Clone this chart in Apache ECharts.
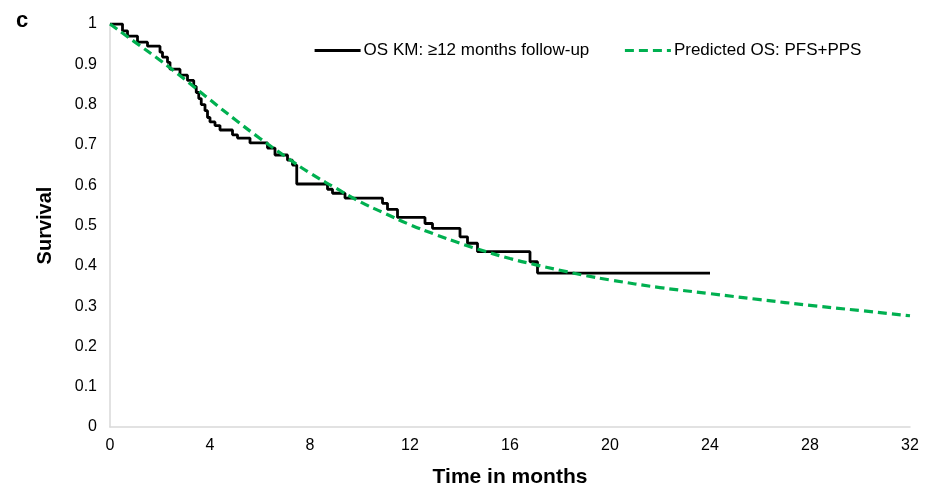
<!DOCTYPE html>
<html>
<head>
<meta charset="utf-8">
<script src="https://cdn.jsdelivr.net/npm/echarts@6/dist/echarts.min.js"></script>
<style>
  html, body { margin: 0; padding: 0; background: #fff; }
  #chart { width: 934px; height: 496px; }
</style>
</head>
<body>
<div id="chart"></div>
<script>
// KM steps: [month, survival after the drop]
const kmTimes = [0, 0.5, 0.7, 1.1, 1.5, 2.0, 2.1, 2.3, 2.4, 2.8, 3.1, 3.35, 3.45, 3.55, 3.65, 3.8, 3.9, 4.0,
  4.2, 4.4, 4.9, 5.1, 5.6, 6.3, 6.6, 7.1, 7.3, 7.47, 8.7, 8.9, 9.4, 10.9, 11.1, 11.5, 12.6, 12.9,
  14.0, 14.3, 14.7, 16.8, 17.1, 24];
const kmSurv = [1.0, 0.983, 0.97, 0.955, 0.945, 0.93, 0.918, 0.905, 0.888, 0.873, 0.86, 0.845, 0.83, 0.815, 0.80, 0.785, 0.768, 0.757,
  0.748, 0.737, 0.725, 0.717, 0.705, 0.692, 0.675, 0.662, 0.65, 0.603, 0.59, 0.58, 0.568, 0.555, 0.54, 0.52, 0.505, 0.493,
  0.472, 0.456, 0.435, 0.41, 0.382, 0.382];

// predicted OS (PFS+PPS)
const predTimes = [0, 1, 2, 3, 4, 5, 6, 7, 8, 9, 10, 11, 12, 13, 14, 15, 16, 17, 18, 19, 20, 22, 24, 26, 28, 30, 32];
const predSurv = [1.0, 0.955, 0.91, 0.862, 0.812, 0.763, 0.716, 0.672, 0.630, 0.594, 0.559, 0.530, 0.502, 0.478, 0.456,
  0.436, 0.418, 0.403, 0.389, 0.376, 0.365, 0.346, 0.331, 0.316, 0.302, 0.289, 0.276];

const kmName = "OS KM: \u226512 months follow-up";
const predName = "Predicted OS: PFS+PPS";

const font = "Liberation Sans, Arial, sans-serif";

let chartDom = document.getElementById("chart");
let myChart = echarts.init(chartDom);
let option = {
  animation: false,
  backgroundColor: "#fff",
  textStyle: { fontFamily: font },
  title: {
    text: "c",
    left: 11,
    top: 5,
    textStyle: { fontFamily: font, fontSize: 22, fontWeight: "bold", color: "#000" },
  },
  legend: {
    left: 308,
    top: 37,
    itemWidth: 46,
    itemHeight: 14,
    itemGap: 34,
    itemStyle: { opacity: 0 },
    lineStyle: { width: 3.2 },
    textStyle: { fontFamily: font, fontSize: 17, color: "#000", padding: [0, 0, 0, -2] },
    data: [kmName, predName],
  },
  grid: { left: 110, right: 24, top: 24, bottom: 69 },
  xAxis: {
    type: "value",
    min: 0,
    max: 32,
    interval: 4,
    name: "Time in months",
    nameLocation: "middle",
    nameGap: 40,
    nameTextStyle: { fontFamily: font, fontSize: 21, fontWeight: "bold", color: "#000" },
    axisLine: { lineStyle: { color: "#d9d9d9", width: 1.5 } },
    axisTick: { show: false },
    splitLine: { show: false },
    axisLabel: { fontFamily: font, fontSize: 16, color: "#000", margin: 11 },
  },
  yAxis: {
    type: "value",
    min: 0,
    max: 1,
    interval: 0.1,
    name: "Survival",
    nameLocation: "middle",
    nameGap: 55,
    nameTextStyle: { fontFamily: font, fontSize: 20, fontWeight: "bold", color: "#000" },
    axisLine: { show: true, lineStyle: { color: "#d9d9d9", width: 1.5 } },
    axisTick: { show: false },
    splitLine: { show: false },
    axisLabel: { fontFamily: font, fontSize: 16, color: "#000", margin: 13 },
  },
  series: [
    {
      name: kmName,
      type: "line",
      step: "end",
      symbol: "none",
      data: kmTimes.map((t, i) => [t, kmSurv[i]]),
      lineStyle: { color: "#000", width: 2.8 },
      itemStyle: { color: "#000" },
      z: 2,
    },
    {
      name: predName,
      type: "line",
      smooth: true,
      symbol: "none",
      data: predTimes.map((t, i) => [t, predSurv[i]]),
      lineStyle: { color: "#00b050", width: 3.2, type: [9, 5] },
      itemStyle: { color: "#00b050" },
      z: 3,
    },
  ],
};
option && myChart.setOption(option);
</script>
</body>
</html>
